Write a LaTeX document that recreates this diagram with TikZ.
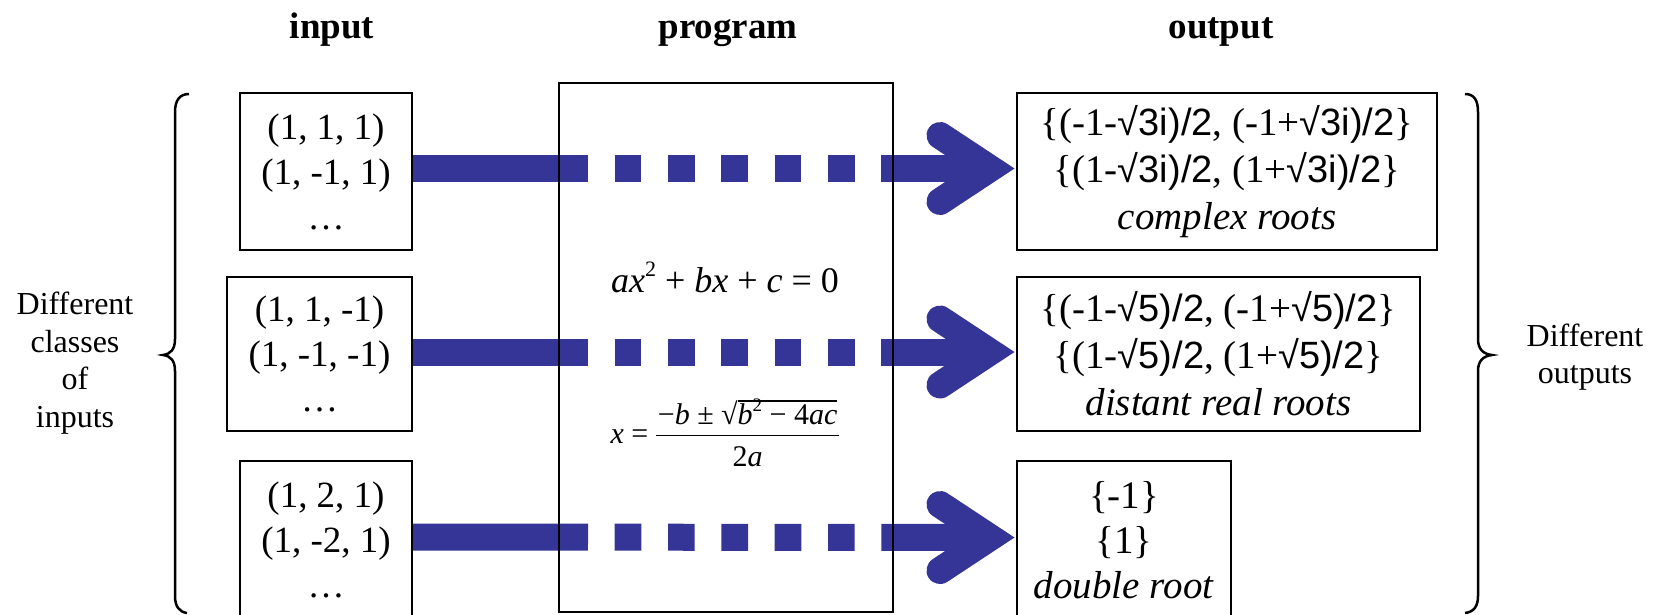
\documentclass[tikz,border=0pt]{standalone}
\usepackage{fontspec}
\setmainfont{Liberation Serif}
\newfontfamily\sansout{Liberation Sans}
\usetikzlibrary{calc}
\pgfdeclarelayer{bg}
\pgfsetlayers{bg,main}
\definecolor{barblue}{RGB}{53,53,151}
\newcommand\sq[1]{{\sansout\fontsize{38}{47}\selectfont #1}}
\newcommand\supn[2]{\raisebox{0.42em}{\fontsize{#1}{#1}\selectfont #2}}
\newsavebox\rbox
\newsavebox\rcont
\newcommand\radic[1]{\sbox\rbox{√}\sbox\rcont{#1}\usebox\rbox\rlap{\rule[\dimexpr\ht\rbox-0.05em\relax]{\wd\rcont}{0.05em}}\usebox\rcont}
\begin{document}
\begin{tikzpicture}[x=1pt,y=-1pt,
  box/.style={draw=black, line width=2pt, rectangle, inner sep=0pt, align=center},
  intext/.style={font=\fontsize{37}{45}\selectfont},
  outtext/.style={font=\fontsize{39}{47}\selectfont},
  title/.style={font=\fontsize{37}{44}\selectfont\bfseries, anchor=base, inner sep=0pt},
  side/.style={align=center, font=\fontsize{32}{37.7}\selectfont, inner sep=0pt},
  bar/.style={draw=barblue, line width=27pt, line cap=butt,
    dash pattern=on 175pt off 26.67pt on 26.67pt off 26.67pt on 26.67pt off 26.67pt on 26.67pt off 26.67pt on 26.67pt off 26.67pt on 26.67pt off 26.67pt on 400pt},
  head/.style={draw=barblue, line width=27pt, line cap=round, line join=miter},
  bracestyle/.style={draw=black, line width=2.5pt}
]
\useasboundingbox (0,0) rectangle (1655,614);

% titles
\node[title] (tin) at (332,38) {input};
\node[title] (tprog) at (728,38) {program};
\node[title] (tout) at (1221,38) {output};

% side labels
\node[side] (lin) at (75,363) {Different\\classes\\of\\inputs};
\node[side] (lout) at (1585,357) {Different\\outputs};

% input boxes
\node[box, intext, minimum width=172pt, minimum height=157pt] (in1) at (326,171.5) {(1, 1, 1)\\(1, -1, 1)\\…};
\node[box, intext, minimum width=185pt, minimum height=154pt] (in2) at (319.5,354) {(1, 1, -1)\\(1, -1, -1)\\…};
\node[box, intext, minimum width=172pt, minimum height=158pt] (in3) at (326,540) {(1, 2, 1)\\(1, -2, 1)\\…};

% program box
\node[box, line width=1.6pt, minimum width=334pt, minimum height=529pt] (prog) at (726,347.5) {};
\node[anchor=base, inner sep=0pt, font=\fontsize{36}{42}\selectfont] (f1) at (725,292)
  {\textit{ax}\supn{22}{2} + \textit{bx} + \textit{c} = 0};
\node[anchor=base, inner sep=0pt, font=\fontsize{30}{35}\selectfont] (f2) at (725,443)
  {\textit{x} = \raisebox{19pt}{\setlength\arrayrulewidth{1.4pt}\begin{tabular}[t]{@{\hspace{2pt}}c@{\hspace{2pt}}}−\textit{b} ± \radic{\textit{b}\supn{19}{2} − 4\textit{ac}}\\\hline\rule{0pt}{31pt}2\textit{a}\end{tabular}}};

% output boxes
\node[box, outtext, minimum width=420pt, minimum height=157pt] (out1) at (1227,171.5)
  {\{(-1-\sq{√3i)/2}, (-1+\sq{√3i)/2}\}\\\{(1-\sq{√3i)/2}, (1+\sq{√3i)/2}\}\\\textit{complex roots}};
\node[box, outtext, minimum width=403pt, minimum height=154pt] (out2) at (1218.5,354)
  {\{(-1-\sq{√5)/2}, (-1+\sq{√5)/2}\}\\\{(1-\sq{√5)/2}, (1+\sq{√5)/2}\}\\\textit{distant real roots}};
\node[box, font=\fontsize{39}{45}\selectfont, minimum width=214pt, minimum height=159pt] (out3) at (1124,540.5)
  {\{-1\}\\\{1\}\\\textit{double root}};

% braces
\draw[bracestyle] (189,94) .. controls (180,94) and (175,100) .. (175,112) -- (175,339)
  .. controls (175,349) and (171,354) .. (163,355) .. controls (171,356) and (175,361) .. (175,371)
  -- (175,596) .. controls (175,606) and (179,612) .. (187,613);
\draw[bracestyle] (1465,94) .. controls (1474,94) and (1478,100) .. (1478,112) -- (1478,339)
  .. controls (1478,349) and (1483,354) .. (1492,355) .. controls (1483,356) and (1478,361) .. (1478,371)
  -- (1478,596) .. controls (1478,606) and (1474,612) .. (1465,613);

% arrows
\begin{pgfonlayer}{bg}
\foreach \i/\dy in {1/-3,2/-2,3/-3} {
  \draw[bar] ($(in\i.east)+(0,\dy)$) -- ($(out\i.west)+(-40,\dy)$);
  \draw[head] ($(out\i.west)+(-76,\dy-33)$) -- ($(out\i.west)+(-26,\dy)$) -- ($(out\i.west)+(-76,\dy+33)$);
}
\end{pgfonlayer}
\end{tikzpicture}
\end{document}
